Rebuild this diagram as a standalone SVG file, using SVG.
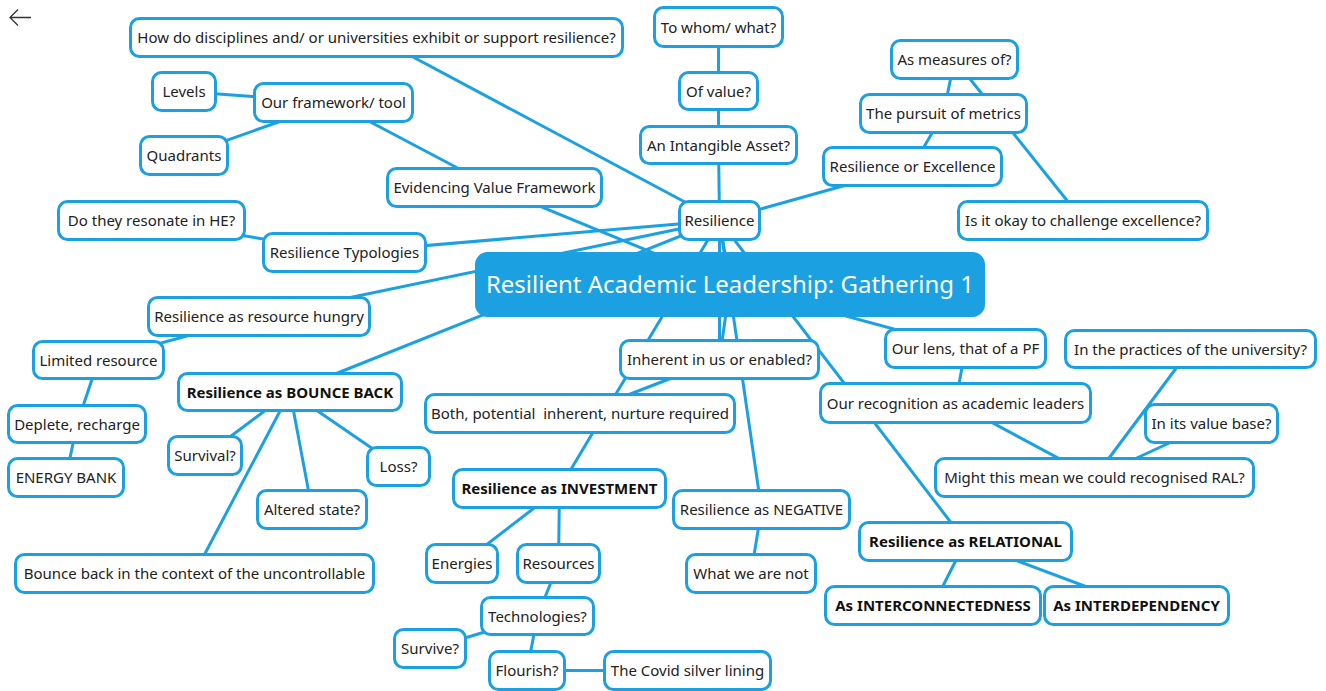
<svg xmlns="http://www.w3.org/2000/svg" width="1326" height="691" viewBox="0 0 1326 691">
<style>
.n rect{fill:#fff;stroke:#1ba1e2;stroke-width:3}
.n text{font-family:"Noto Sans","Open Sans",sans-serif;font-size:15px;fill:#222;text-anchor:middle}
.b text{font-weight:bold;fill:#111}
#central rect{fill:#1ba1e2;stroke:#1ba1e2}
#central text{fill:#fff;font-size:24px}
#connectors line{stroke:#1ba1e2;stroke-width:3;stroke-linecap:round}
</style>
<rect width="1326" height="691" fill="#fff"/>
<path d="M31 17.5H10M18 9.5L10 17.5L18 25.5" fill="none" stroke="#333" stroke-width="1.3"/>
<g id="connectors">
<line x1="718.5" y1="27" x2="718.5" y2="91"/>
<line x1="718.5" y1="91" x2="718.5" y2="145"/>
<line x1="718.5" y1="145" x2="719.5" y2="220.5"/>
<line x1="376.5" y1="37.5" x2="719.5" y2="220.5"/>
<line x1="719.5" y1="220.5" x2="912.5" y2="166.5"/>
<line x1="912.5" y1="166.5" x2="943.5" y2="113.5"/>
<line x1="943.5" y1="113.5" x2="954.5" y2="59.5"/>
<line x1="1083" y1="220.5" x2="954.5" y2="59.5"/>
<line x1="184" y1="91.5" x2="333.5" y2="102.5"/>
<line x1="184" y1="155.5" x2="333.5" y2="102.5"/>
<line x1="333.5" y1="102.5" x2="494.5" y2="187.5"/>
<line x1="494.5" y1="187.5" x2="730" y2="284.5"/>
<line x1="151.5" y1="220.5" x2="344.5" y2="252.5"/>
<line x1="344.5" y1="252.5" x2="719.5" y2="220.5"/>
<line x1="719.5" y1="220.5" x2="259" y2="316.5"/>
<line x1="259" y1="316.5" x2="98.5" y2="360"/>
<line x1="98.5" y1="360" x2="77" y2="424"/>
<line x1="77" y1="424" x2="66" y2="477.5"/>
<line x1="719.5" y1="220.5" x2="290" y2="392"/>
<line x1="290" y1="392" x2="205" y2="455.5"/>
<line x1="290" y1="392" x2="398.5" y2="466.5"/>
<line x1="290" y1="392" x2="312" y2="509.5"/>
<line x1="290" y1="392" x2="194.5" y2="573.5"/>
<line x1="730" y1="284.5" x2="719.5" y2="220.5"/>
<line x1="730" y1="284.5" x2="965.5" y2="348.5"/>
<line x1="730" y1="284.5" x2="719.5" y2="359.5"/>
<line x1="719.5" y1="220.5" x2="719.5" y2="359.5"/>
<line x1="719.5" y1="359.5" x2="580" y2="413.5"/>
<line x1="719.5" y1="220.5" x2="559.5" y2="488.5"/>
<line x1="719.5" y1="220.5" x2="761.5" y2="509.5"/>
<line x1="719.5" y1="220.5" x2="965.5" y2="541.5"/>
<line x1="761.5" y1="509.5" x2="751" y2="573.5"/>
<line x1="559.5" y1="488.5" x2="462" y2="563.5"/>
<line x1="559.5" y1="488.5" x2="558.5" y2="563.5"/>
<line x1="558.5" y1="563.5" x2="537.5" y2="616"/>
<line x1="537.5" y1="616" x2="430" y2="648.5"/>
<line x1="537.5" y1="616" x2="527" y2="670.5"/>
<line x1="527" y1="670.5" x2="687.5" y2="670.5"/>
<line x1="965.5" y1="348.5" x2="955.5" y2="403"/>
<line x1="955.5" y1="403" x2="1094.5" y2="477.5"/>
<line x1="1190.5" y1="349" x2="1094.5" y2="477.5"/>
<line x1="1211.5" y1="423.5" x2="1094.5" y2="477.5"/>
<line x1="965.5" y1="541.5" x2="933" y2="605.5"/>
<line x1="965.5" y1="541.5" x2="1136.5" y2="605.5"/>
</g>
<g id="how" class="n"><rect x="130.5" y="18.5" width="492" height="38" rx="9"/><text x="376.5" y="43">How do disciplines and/ or universities exhibit or support resilience?</text></g>
<g id="towhom" class="n"><rect x="654.5" y="7.5" width="128" height="39" rx="9"/><text x="718.5" y="32.5">To whom/ what?</text></g>
<g id="ofvalue" class="n"><rect x="679.5" y="72.5" width="78" height="37" rx="9"/><text x="718.5" y="96.5">Of value?</text></g>
<g id="intangible" class="n"><rect x="640.5" y="126.5" width="156" height="37" rx="9"/><text x="718.5" y="150.5">An Intangible Asset?</text></g>
<g id="resilience" class="n"><rect x="679.5" y="201.5" width="80" height="38" rx="9"/><text x="719.5" y="226">Resilience</text></g>
<g id="measures" class="n"><rect x="891.5" y="40.5" width="126" height="38" rx="9"/><text x="954.5" y="65">As measures of?</text></g>
<g id="pursuit" class="n"><rect x="860.5" y="94.5" width="166" height="38" rx="9"/><text x="943.5" y="119">The pursuit of metrics</text></g>
<g id="roe" class="n"><rect x="823.5" y="147.5" width="178" height="38" rx="9"/><text x="912.5" y="172">Resilience or Excellence</text></g>
<g id="okay" class="n"><rect x="958.5" y="201.5" width="249" height="38" rx="9"/><text x="1083" y="226">Is it okay to challenge excellence?</text></g>
<g id="levels" class="n"><rect x="152.5" y="72.5" width="63" height="38" rx="9"/><text x="184" y="97">Levels</text></g>
<g id="framework" class="n"><rect x="254.5" y="83.5" width="158" height="38" rx="9"/><text x="333.5" y="108">Our framework/ tool</text></g>
<g id="quadrants" class="n"><rect x="140.5" y="136.5" width="87" height="38" rx="9"/><text x="184" y="161">Quadrants</text></g>
<g id="evidencing" class="n"><rect x="387.5" y="168.5" width="214" height="38" rx="9"/><text x="494.5" y="193">Evidencing Value Framework</text></g>
<g id="resonate" class="n"><rect x="58.5" y="201.5" width="186" height="38" rx="9"/><text x="151.5" y="226">Do they resonate in HE?</text></g>
<g id="typologies" class="n"><rect x="263.5" y="233.5" width="162" height="38" rx="9"/><text x="344.5" y="258">Resilience Typologies</text></g>
<g id="hungry" class="n"><rect x="148.5" y="297.5" width="221" height="38" rx="9"/><text x="259" y="322">Resilience as resource hungry</text></g>
<g id="limited" class="n"><rect x="33.5" y="341.5" width="130" height="37" rx="9"/><text x="98.5" y="365.5">Limited resource</text></g>
<g id="bounce" class="n b"><rect x="178.5" y="373.5" width="223" height="37" rx="9"/><text x="290" y="397.5">Resilience as BOUNCE BACK</text></g>
<g id="deplete" class="n"><rect x="8.5" y="405.5" width="137" height="37" rx="9"/><text x="77" y="429.5">Deplete, recharge</text></g>
<g id="energy" class="n"><rect x="8.5" y="458.5" width="115" height="38" rx="9"/><text x="66" y="483">ENERGY BANK</text></g>
<g id="survival" class="n"><rect x="168.5" y="436.5" width="73" height="38" rx="9"/><text x="205" y="461">Survival?</text></g>
<g id="loss" class="n"><rect x="367.5" y="447.5" width="62" height="38" rx="9"/><text x="398.5" y="472">Loss?</text></g>
<g id="altered" class="n"><rect x="257.5" y="490.5" width="109" height="38" rx="9"/><text x="312" y="515">Altered state?</text></g>
<g id="context" class="n"><rect x="15.5" y="554.5" width="358" height="38" rx="9"/><text x="194.5" y="579">Bounce back in the context of the uncontrollable</text></g>
<g id="central" class="n"><rect x="476.5" y="253.5" width="507" height="62" rx="11"/><text x="730" y="293">Resilient Academic Leadership: Gathering 1</text></g>
<g id="inherent" class="n"><rect x="620.5" y="340.5" width="198" height="38" rx="9"/><text x="719.5" y="365">Inherent in us or enabled?</text></g>
<g id="both" class="n"><rect x="425.5" y="394.5" width="309" height="38" rx="9"/><text x="580" y="419" xml:space="preserve">Both, potential  inherent, nurture required</text></g>
<g id="lens" class="n"><rect x="885.5" y="329.5" width="160" height="38" rx="9"/><text x="965.5" y="354">Our lens, that of a PF</text></g>
<g id="practices" class="n"><rect x="1065.5" y="330.5" width="250" height="37" rx="9"/><text x="1190.5" y="354.5">In the practices of the university?</text></g>
<g id="recognition" class="n"><rect x="820.5" y="383.5" width="270" height="39" rx="9"/><text x="955.5" y="408.5">Our recognition as academic leaders</text></g>
<g id="valuebase" class="n"><rect x="1145.5" y="404.5" width="132" height="38" rx="9"/><text x="1211.5" y="429">In its value base?</text></g>
<g id="might" class="n"><rect x="935.5" y="458.5" width="318" height="38" rx="9"/><text x="1094.5" y="483">Might this mean we could recognised RAL?</text></g>
<g id="investment" class="n b"><rect x="453.5" y="469.5" width="212" height="38" rx="9"/><text x="559.5" y="494">Resilience as INVESTMENT</text></g>
<g id="negative" class="n"><rect x="673.5" y="490.5" width="176" height="38" rx="9"/><text x="761.5" y="515">Resilience as NEGATIVE</text></g>
<g id="energies" class="n"><rect x="426.5" y="544.5" width="71" height="38" rx="9"/><text x="462" y="569">Energies</text></g>
<g id="resources" class="n"><rect x="517.5" y="544.5" width="82" height="38" rx="9"/><text x="558.5" y="569">Resources</text></g>
<g id="notwe" class="n"><rect x="686.5" y="554.5" width="129" height="38" rx="9"/><text x="751" y="579">What we are not</text></g>
<g id="relational" class="n b"><rect x="859.5" y="522.5" width="212" height="38" rx="9"/><text x="965.5" y="547">Resilience as RELATIONAL</text></g>
<g id="interconn" class="n b"><rect x="825.5" y="586.5" width="215" height="38" rx="9"/><text x="933" y="611">As INTERCONNECTEDNESS</text></g>
<g id="interdep" class="n b"><rect x="1044.5" y="586.5" width="184" height="38" rx="9"/><text x="1136.5" y="611">As INTERDEPENDENCY</text></g>
<g id="tech" class="n"><rect x="481.5" y="597.5" width="112" height="37" rx="9"/><text x="537.5" y="621.5">Technologies?</text></g>
<g id="survive" class="n"><rect x="394.5" y="629.5" width="71" height="38" rx="9"/><text x="430" y="654">Survive?</text></g>
<g id="flourish" class="n"><rect x="489.5" y="651.5" width="75" height="38" rx="9"/><text x="527" y="676">Flourish?</text></g>
<g id="covid" class="n"><rect x="604.5" y="651.5" width="166" height="38" rx="9"/><text x="687.5" y="676">The Covid silver lining</text></g>
</svg>
